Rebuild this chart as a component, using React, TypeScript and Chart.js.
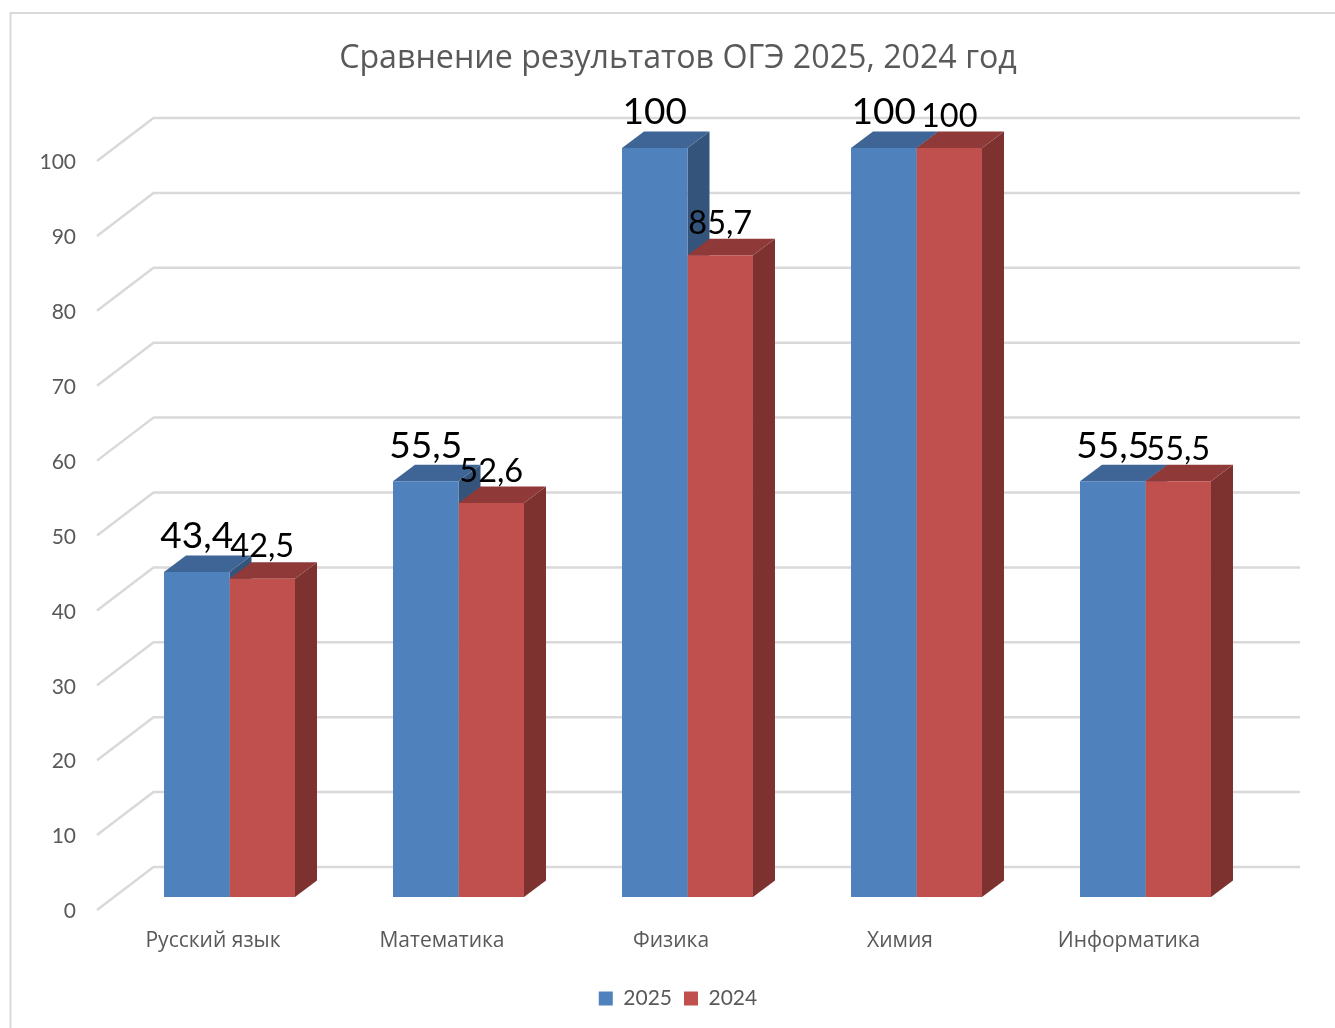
import React, { useEffect, useRef } from "react";
import { Chart, registerables } from "chart.js";

Chart.register(...registerables);

const categories = ["Русский язык", "Математика", "Физика", "Химия", "Информатика"];
const values2025 = [43.4, 55.5, 100, 100, 55.5];
const values2024 = [42.5, 52.6, 85.7, 100, 55.5];
const seriesNames = ["2025", "2024"];
const yTicks = [0, 10, 20, 30, 40, 50, 60, 70, 80, 90, 100];
const titleText = "Сравнение результатов ОГЭ 2025, 2024 год";

const FRONT = ["#4F81BD", "#C0504D"];
const SIDE = ["#34547C", "#7D3230"];
const TOP = ["#3F6596", "#8F3A38"];
const GRID = "#D9D9D9";
const TEXT = "#595959";
const FONT = "'Open Sans', 'Noto Sans', sans-serif";
const LABEL_FONT = "Lato, 'Open Sans', sans-serif";
const DEPTH_X = 22;
const DEPTH_Y = 16.5;

const threeD = {
  id: "threeD",
  beforeDraw(chart: any) {
    const { ctx } = chart;
    ctx.save();
    ctx.strokeStyle = GRID;
    ctx.lineWidth = 2;
    ctx.beginPath();
    ctx.moveTo(10.5, 1028);
    ctx.lineTo(10.5, 13);
    ctx.lineTo(1335, 13);
    ctx.stroke();
    ctx.restore();
  },
  beforeDatasetsDraw(chart: any) {
    const { ctx, chartArea, scales } = chart;
    ctx.save();
    ctx.strokeStyle = GRID;
    ctx.lineWidth = 2.5;
    ctx.lineJoin = "round";
    yTicks.forEach((t) => {
      const y = scales.y.getPixelForValue(t);
      ctx.beginPath();
      ctx.moveTo(chartArea.left - 18, y + 13);
      ctx.lineTo(chartArea.left + 38.5, y - 30);
      ctx.lineTo(chartArea.right + 40, y - 30);
      ctx.stroke();
    });
    [0, 1].forEach((d) => {
      chart.getDatasetMeta(d).data.forEach((bar: any) => {
        const { x, y, base, width } = bar.getProps(["x", "y", "base", "width"], true);
        const r = x + width / 2;
        const l = x - width / 2;
        ctx.fillStyle = SIDE[d];
        ctx.beginPath();
        ctx.moveTo(r, y);
        ctx.lineTo(r + DEPTH_X, y - DEPTH_Y);
        ctx.lineTo(r + DEPTH_X, base - DEPTH_Y);
        ctx.lineTo(r, base);
        ctx.closePath();
        ctx.fill();
        ctx.fillStyle = TOP[d];
        ctx.beginPath();
        ctx.moveTo(l, y);
        ctx.lineTo(l + DEPTH_X, y - DEPTH_Y);
        ctx.lineTo(r + DEPTH_X, y - DEPTH_Y);
        ctx.lineTo(r, y);
        ctx.closePath();
        ctx.fill();
      });
    });
    ctx.restore();
  },
  afterDatasetsDraw(chart: any) {
    const { ctx } = chart;
    ctx.save();
    ctx.fillStyle = "#000000";
    ctx.textAlign = "center";
    ctx.textBaseline = "middle";
    [0, 1].forEach((d) => {
      const size = d === 0 ? 37 : 32.5;
      const lift = d === 0 ? 35.5 : 32;
      ctx.font = `${size}px ${LABEL_FONT}`;
      const vals = chart.data.datasets[d].data;
      chart.getDatasetMeta(d).data.forEach((bar: any, i: number) => {
        const { x, y } = bar.getProps(["x", "y"], true);
        ctx.fillText(String(vals[i]).replace(".", ","), x, y - lift);
      });
    });
    ctx.restore();
  },
};

export default function App() {
  const ref = useRef<HTMLCanvasElement>(null);
  useEffect(() => {
    const chart = new Chart(ref.current!, {
      type: "bar",
      data: {
        labels: categories,
        datasets: [
          { label: seriesNames[0], data: values2025, backgroundColor: FRONT[0] },
          { label: seriesNames[1], data: values2024, backgroundColor: FRONT[1] },
        ],
      },
      plugins: [threeD],
      options: {
        animation: false,
        responsive: false,
        layout: { autoPadding: false, padding: { left: 21, right: 0, top: 0, bottom: 9 } },
        datasets: { bar: { categoryPercentage: 0.572, barPercentage: 1 } },
        scales: {
          x: {
            grid: { display: false, drawTicks: false },
            border: { display: false },
            afterFit: (s: any) => { s.height = 79; },
            ticks: {
              color: TEXT,
              font: { family: FONT, size: 21 },
              maxRotation: 0,
              autoSkip: false,
              labelOffset: -16.5,
              padding: 31,
            },
          },
          y: {
            min: 0,
            max: 100,
            afterFit: (s: any) => { s.width = 94; },
            grid: { display: false, drawTicks: false },
            border: { display: false },
            ticks: {
              stepSize: 10,
              color: TEXT,
              font: { family: LABEL_FONT, size: 21 },
              labelOffset: 14.5,
              padding: 39,
            },
          },
          rightSpace: {
            position: "right",
            afterFit: (s: any) => { s.width = 75; },
            grid: { display: false, drawTicks: false },
            border: { display: false },
            ticks: { display: false },
          },
        },
        plugins: {
          tooltip: { enabled: false },
          title: {
            display: true,
            text: titleText,
            color: TEXT,
            font: { family: FONT, size: 32.2, weight: "normal", lineHeight: 1.2 },
            padding: { top: 40, bottom: 69.4 },
          },
          legend: {
            position: "bottom",
            labels: {
              color: TEXT,
              boxWidth: 14,
              boxHeight: 14,
              padding: 12,
              font: { family: LABEL_FONT, size: 21 },
            },
          },
        },
      },
    } as any);
    return () => chart.destroy();
  }, []);
  return (
    <div style={{ position: "absolute", left: 0, top: 0, width: 1335, height: 1028 }}>
      <canvas ref={ref} width={1335} height={1028} style={{ display: "block" }} />
    </div>
  );
}
